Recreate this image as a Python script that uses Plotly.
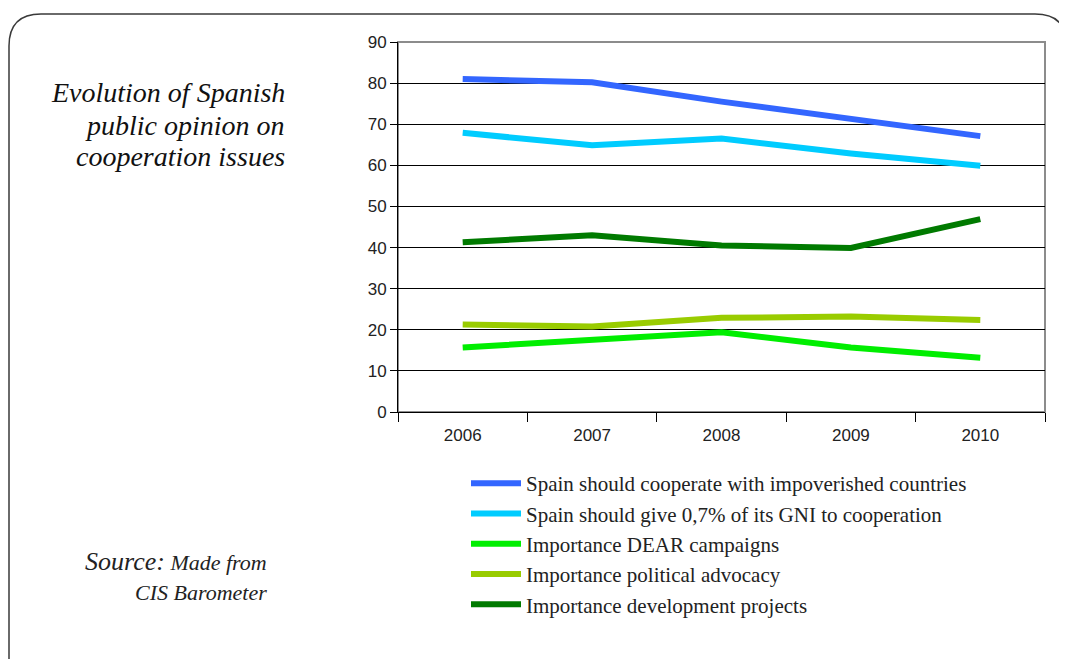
import plotly.graph_objects as go

W, H = 1067, 659
OX, OY = 8, 8  # page body margin offset

years = ["2006", "2007", "2008", "2009", "2010"]
cooperate = [81.0, 80.2, 75.5, 71.2, 67.1]
gni_07 = [67.9, 64.9, 66.5, 62.9, 59.9]
dear = [15.7, 17.5, 19.4, 15.7, 13.2]
advocacy = [21.3, 20.8, 22.9, 23.2, 22.4]
projects = [41.3, 43.0, 40.5, 39.9, 46.9]

series_names = [
    "Spain should cooperate with impoverished countries",
    "Spain should give 0,7% of its GNI to cooperation",
    "Importance DEAR campaigns",
    "Importance political advocacy",
    "Importance development projects",
]
series_values = [cooperate, gni_07, dear, advocacy, projects]
colors = ["#3366FF", "#00CCFF", "#00EE00", "#99CC00", "#007A00"]

y_ticks = [0, 10, 20, 30, 40, 50, 60, 70, 80, 90]

title_lines = ["Evolution of Spanish", "public opinion on", "cooperation issues"]
source_lines = ["<span style='font-size:26px'>Source:</span> Made from", "CIS Barometer"]

fig = go.Figure()
for i, (name, vals, col) in enumerate(zip(series_names, series_values, colors)):
    fig.add_trace(go.Scatter(
        x=years, y=vals, name=name, mode="lines",
        line=dict(color=col, width=6),
        legendgroup=f"g{i}", legendrank=i + 1,
        hoverinfo="skip",
    ))


def px_x(v):
    return (v - OX) / W


def px_y(v):
    return 1 - (v - OY) / H


fig.update_layout(
    template="none",
    width=W, height=H,
    margin=dict(l=0, r=0, t=0, b=0, autoexpand=False),
    paper_bgcolor="white", plot_bgcolor="white",
    showlegend=True,
    legend=dict(
        x=px_x(466), y=px_y(463), xanchor="left", yanchor="top",
        font=dict(family="Liberation Serif", size=21, color="#222222"),
        tracegroupgap=0, itemwidth=50,
        bgcolor="rgba(0,0,0,0)", borderwidth=0,
    ),
    xaxis=dict(
        domain=[px_x(398), px_x(1045)],
        type="category", tickson="boundaries",
        ticks="outside", ticklen=9, tickcolor="#000000", tickwidth=1,
        ticklabelstandoff=8,
        showline=True, linecolor="#000000", linewidth=1,
        showgrid=False, zeroline=False, automargin=False,
        tickfont=dict(family="Liberation Sans", size=17, color="#222222"),
        range=[-0.5, 4.5], fixedrange=True,
    ),
    yaxis=dict(
        domain=[px_y(412), px_y(42)],
        range=[0, 90], tickvals=y_ticks,
        ticks="outside", ticklen=7, tickcolor="#000000",
        showline=True, linecolor="#000000", linewidth=1,
        showgrid=True, gridcolor="#000000", gridwidth=1,
        zeroline=False, automargin=False,
        tickfont=dict(family="Liberation Sans", size=17, color="#222222"),
        fixedrange=True,
    ),
    font=dict(family="Liberation Serif"),
)

# gray border on top/right of plot area
fig.add_shape(type="rect", xref="x domain", yref="y domain",
              x0=0, x1=1, y0=0, y1=1,
              line=dict(color="#8C8C8C", width=2), layer="below")

# rounded slide frame
r = 32
path = (f"M {px_x(9)},{px_y(H + 20)} L {px_x(9)},{px_y(14 + r)} "
        f"Q {px_x(9)},{px_y(14)} {px_x(9 + r)},{px_y(14)} "
        f"L {px_x(1035)},{px_y(14)} "
        f"Q {px_x(1067)},{px_y(14)} {px_x(1067)},{px_y(14 + r)} "
        f"L {px_x(1075)},{px_y(H + 20)}")
fig.add_shape(type="path", xref="paper", yref="paper", path=path,
              line=dict(color="#3A3A3A", width=1.5))

for k, line in enumerate(title_lines):
    fig.add_annotation(
        xref="paper", yref="paper", x=px_x(287), y=px_y(93 + 32 * k),
        xanchor="right", yanchor="middle", showarrow=False,
        text=line,
        font=dict(family="Liberation Serif", size=28, color="#111111", style="italic"),
    )

for k, line in enumerate(source_lines):
    fig.add_annotation(
        xref="paper", yref="paper", x=px_x(269), y=px_y(561 + 31 * k),
        xanchor="right", yanchor="middle", showarrow=False,
        text=line,
        font=dict(family="Liberation Serif", size=22, color="#222222", style="italic"),
    )

fig.write_html("out.html")
